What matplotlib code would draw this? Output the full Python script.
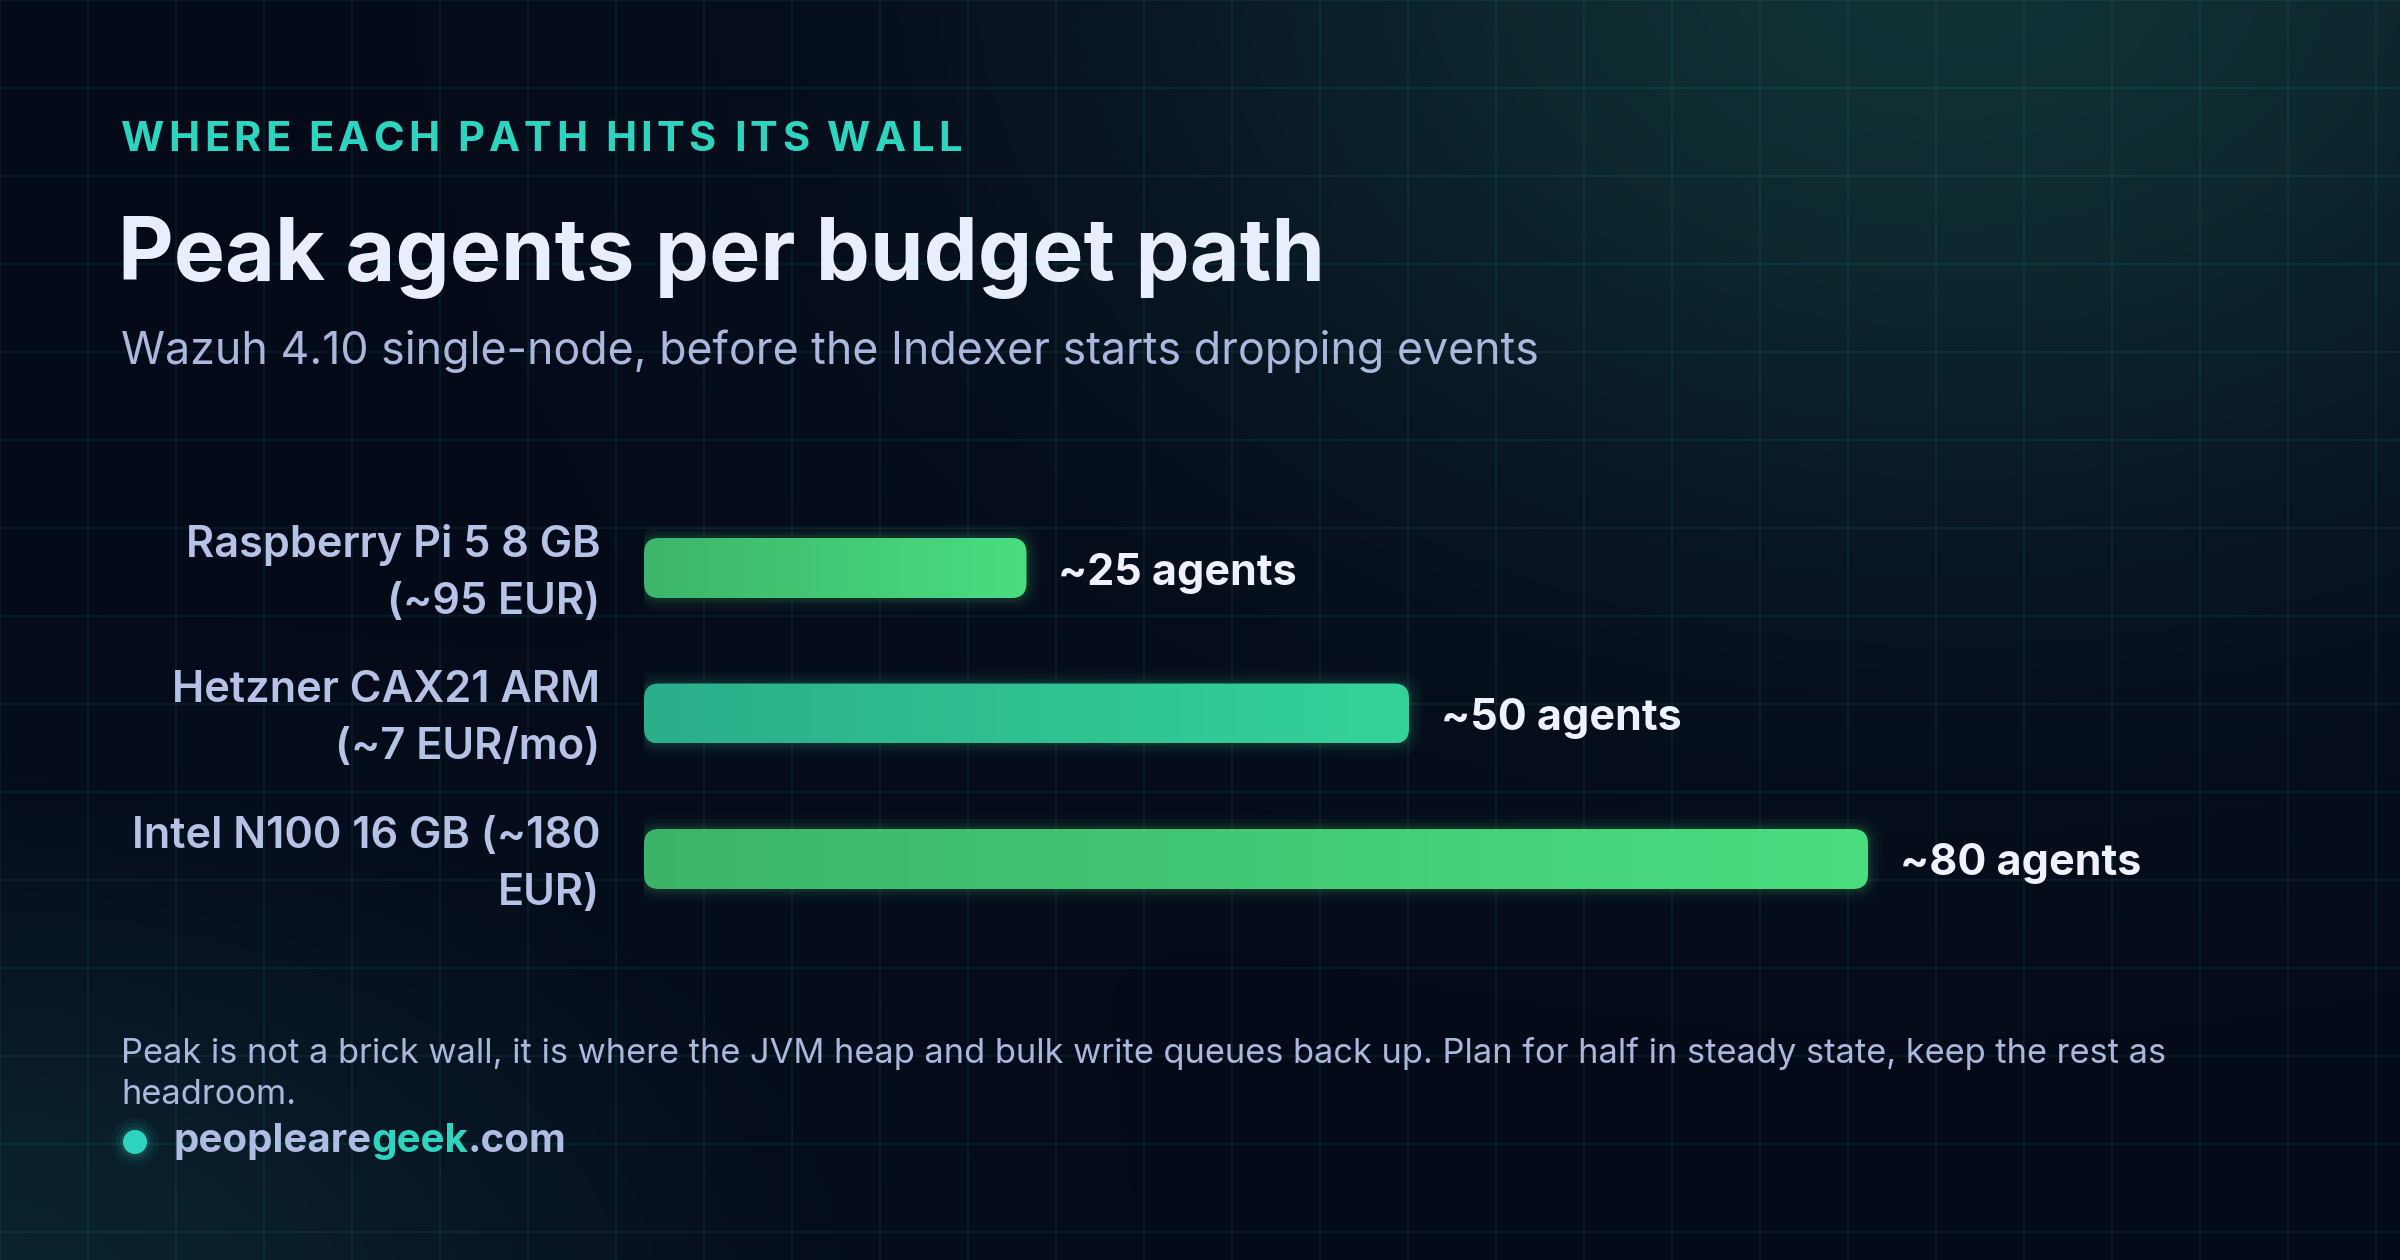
import numpy as np
import matplotlib
matplotlib.use("Agg")
import matplotlib.pyplot as plt
import matplotlib.transforms as mtransforms
from matplotlib.patches import FancyBboxPatch, Circle
from matplotlib.colors import to_rgb

# data
categories = ["Raspberry Pi 5 8 GB\n(~95 EUR)",
              "Hetzner CAX21 ARM\n(~7 EUR/mo)",
              "Intel N100 16 GB (~180\nEUR)"]
agents = [25, 50, 80]
value_labels = ["~25 agents", "~50 agents", "~80 agents"]
bar_colors = [("#3db56b", "#4ade80"),
              ("#2bae8a", "#34d399"),
              ("#3bb46a", "#4ade80")]

eyebrow = "WHERE EACH PATH HITS ITS WALL"
title = "Peak agents per budget path"
subtitle = "Wazuh 4.10 single-node, before the Indexer starts dropping events"
note = ("Peak is not a brick wall, it is where the JVM heap and bulk write queues back up. "
        "Plan for half in steady state, keep the rest as\nheadroom.")
brand = [("peopleare", "#aebde3"), ("geek", "#2dd4bf"), (".com", "#aebde3")]

W, H = 2400, 1260
FONT = "Inter"
plt.rcParams['font.family'] = [FONT, 'DejaVu Sans']

fig = plt.figure(figsize=(12, 6.3), dpi=200)

# background: dark navy + teal glows
bg = fig.add_axes([0, 0, 1, 1])
yy, xx = np.mgrid[0:H:2, 0:W:2].astype(float)
base = np.array([5, 10, 25]) / 255
glow1 = np.exp(-(((xx - 1950) / 800) ** 2 + ((yy + 40) / 560) ** 2))
glow2 = np.exp(-(((xx + 50) / 650) ** 2 + ((yy - 1300) / 380) ** 2))
img = base + glow1[..., None] * (np.array([11, 40, 28]) / 255) \
    + glow2[..., None] * (np.array([6, 26, 22]) / 255)
bg.imshow(np.clip(img, 0, 1), extent=[0, W, H, 0], aspect="auto", interpolation="bilinear")
for gx in range(0, W + 1, 88):
    bg.axvline(gx, color="#2dd4bf", alpha=0.08, lw=0.8)
for gy in range(0, H + 1, 88):
    bg.axhline(gy, color="#2dd4bf", alpha=0.08, lw=0.8)
bg.set_xlim(0, W)
bg.set_ylim(H, 0)
bg.axis("off")

fig.canvas.draw()
renderer = fig.canvas.get_renderer()


def spaced_text(ax, x, y, s, spacing, **kw):
    # place characters one at a time to get letter tracking
    for ch in s:
        t = ax.text(x, y, ch, **kw)
        bb = t.get_window_extent(renderer)
        x += bb.width + spacing


spaced_text(bg, 121, 151, eyebrow, 4.2, color="#2dd4bf", fontsize=15,
            fontweight="bold", va="baseline", ha="left")
bg.text(118, 280, title, color="#e8eefc", fontsize=31, fontweight="bold",
        va="baseline", ha="left")
bg.text(121, 364, subtitle, color="#a9b8dc", fontsize=16.1, va="baseline", ha="left")
bg.text(121, 1074, note, color="#a9b8dc", fontsize=12.4, va="center", ha="left",
        linespacing=1.35)

# brand line
for r, a in [(24, 0.05), (19, 0.08), (15, 0.12)]:
    bg.add_patch(Circle((135, 1142), r, color="#2dd4bf", alpha=a, lw=0))
bg.add_patch(Circle((135, 1142), 12, color="#2dd4bf", lw=0))
bx = 173
for part, col in brand:
    t = bg.text(bx, 1142, part, color=col, fontsize=14.5, fontweight="bold",
                va="center", ha="left")
    bx += t.get_window_extent(renderer).width

# bar axes: x in agents, y = category index
x0_px, px_per_agent = 644, 15.3
step = 145.5
top_px = 568 - 0.75 * step
bot_px = 859 + 0.75 * step
xmax = 100
ax = fig.add_axes([x0_px / W, 1 - bot_px / H, xmax * px_per_agent / W, (bot_px - top_px) / H])
ax.set_xlim(0, xmax)
ax.set_ylim(2.75, -0.75)
ax.patch.set_alpha(0)
for s in ax.spines.values():
    s.set_visible(False)
ax.tick_params(axis="x", bottom=False, labelbottom=False)

bar_h = 60 / step
aspect = px_per_agent / step
rad = 15 / px_per_agent
for i, (v, (c0, c1)) in enumerate(zip(agents, bar_colors)):
    # soft glow
    for pad, a in [(14, 0.025), (10, 0.035), (6, 0.05), (3, 0.07)]:
        g = FancyBboxPatch((0 - pad / px_per_agent, i - bar_h / 2 - pad / step),
                           v + 2 * pad / px_per_agent, bar_h + 2 * pad / step,
                           boxstyle=f"round,pad=0,rounding_size={rad + pad / px_per_agent}",
                           mutation_aspect=aspect, fc=c1, ec="none", alpha=a, zorder=1)
        ax.add_patch(g)
    p = FancyBboxPatch((0, i - bar_h / 2), v, bar_h,
                       boxstyle=f"round,pad=0,rounding_size={rad}",
                       mutation_aspect=aspect, fc="none", ec="none", zorder=2)
    ax.add_patch(p)
    grad = np.linspace(0, 1, 256)
    cols = np.array(to_rgb(c0))[None, :] * (1 - grad[:, None]) + np.array(to_rgb(c1))[None, :] * grad[:, None]
    im = ax.imshow(cols[None, :, :], extent=[0, v, i + bar_h / 2, i - bar_h / 2],
                   aspect="auto", zorder=3, interpolation="bilinear")
    im.set_clip_path(p)
    ax.text(v + 32 / px_per_agent, i + 5 / step, value_labels[i], color="#eef2fc", fontsize=15.5,
            fontweight="bold", va="center", ha="left", zorder=4)

ax.set_yticks(range(len(categories)))
ax.set_yticklabels(categories, color="#b6c3e6", fontsize=15.6, fontweight="semibold",
                   linespacing=1.5, ha="right", va="center")
ax.tick_params(axis="y", left=False, pad=12.2)
# nudge labels down a touch so the two lines sit around the bar centre
shift = mtransforms.ScaledTranslation(0, -2.0 / 72, fig.dpi_scale_trans)
for lbl in ax.get_yticklabels():
    lbl.set_transform(lbl.get_transform() + shift)
ax.set_xlim(0, xmax)
ax.set_ylim(2.75, -0.75)

fig.savefig("out.png", dpi=200, facecolor=fig.get_facecolor())
